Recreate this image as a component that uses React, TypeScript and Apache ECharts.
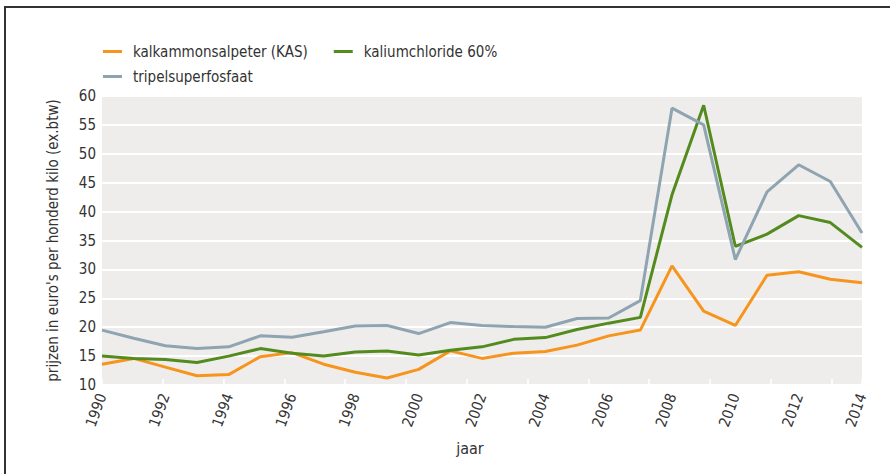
import React, { useEffect, useRef } from "react";
import * as echarts from "echarts";

const years = [
  "1990", "1991", "1992", "1993", "1994", "1995", "1996", "1997", "1998", "1999",
  "2000", "2001", "2002", "2003", "2004", "2005", "2006", "2007", "2008", "2009",
  "2010", "2011", "2012", "2013", "2014",
];

const kas = [
  13.6, 14.6, 13.1, 11.6, 11.8, 14.9, 15.6, 13.6, 12.2, 11.2,
  12.7, 15.9, 14.6, 15.5, 15.8, 16.9, 18.5, 19.5, 30.6, 22.8,
  20.3, 29.0, 29.6, 28.3, 27.7,
];

const kalium = [
  15.0, 14.6, 14.4, 13.9, 15.0, 16.3, 15.5, 15.0, 15.7, 15.9,
  15.2, 16.0, 16.6, 17.9, 18.2, 19.6, 20.7, 21.7, 42.9, 58.4,
  34.0, 36.1, 39.3, 38.1, 33.8,
];

const tripel = [
  19.5, 18.1, 16.8, 16.3, 16.6, 18.5, 18.25, 19.2, 20.2, 20.3,
  18.9, 20.8, 20.3, 20.1, 20.0, 21.5, 21.6, 24.6, 57.9, 55.0,
  31.7, 43.4, 48.1, 45.2, 36.3,
];

const seriesNames = ["kalkammonsalpeter (KAS)", "kaliumchloride 60%", "tripelsuperfosfaat"];
const yTitle = "prijzen in euro's per honderd kilo (ex.btw)";
const xTitle = "jaar";

const FONT = "'DejaVu Sans Condensed', 'Roboto', sans-serif";
const TXT = "#333333";

export default function App() {
  const ref = useRef<HTMLDivElement>(null);

  useEffect(() => {
    if (!ref.current) return;
    const chart = echarts.init(ref.current, undefined, { renderer: "svg" });
    const legendCommon = {
      left: 98,
      orient: "horizontal" as const,
      icon: "rect",
      itemWidth: 19,
      itemHeight: 3,
      itemGap: 26,
      textStyle: { fontFamily: FONT, fontSize: 15, color: TXT, padding: [0, 0, 0, 6] },
    };
    chart.setOption({
      animation: false,
      textStyle: { fontFamily: FONT },
      grid: { left: 102, right: 28, top: 96, bottom: 89, show: true, backgroundColor: "#EEEDEB", borderWidth: 0 },
      legend: [
        { ...legendCommon, top: 39, data: [seriesNames[0], seriesNames[1]] },
        { ...legendCommon, top: 64, data: [seriesNames[2]] },
      ],
      xAxis: [
        {
          type: "category",
          data: years,
          boundaryGap: false,
          axisLine: { show: false },
          axisTick: { show: false },
          axisLabel: {
            interval: 1,
            rotate: 70,
            margin: 9,
            fontSize: 15,
            color: TXT,
            fontFamily: FONT,
          },
        },
        {
          type: "category",
          data: years,
          position: "bottom",
          boundaryGap: true,
          axisLine: { show: false },
          axisLabel: { show: false },
          axisTick: { show: true, inside: true, length: 6, lineStyle: { color: "#ffffff", width: 1.5 } },
        },
      ],
      yAxis: {
        type: "value",
        min: 10,
        max: 60,
        interval: 5,
        name: yTitle,
        nameLocation: "middle",
        nameGap: 42,
        nameTextStyle: { fontFamily: FONT, fontSize: 15, color: TXT },
        axisLine: { show: false },
        axisTick: { show: false },
        axisLabel: { fontSize: 15, color: TXT, margin: 6, fontFamily: FONT },
        splitLine: { lineStyle: { color: "#ffffff", width: 2 } },
      },
      graphic: [
        {
          type: "polyline",
          shape: { points: [[5, 474], [5, 7], [890, 7]] },
          style: { stroke: "#333333", lineWidth: 2, fill: "none" },
        },
        {
          type: "text",
          x: 470,
          y: 448,
          style: { text: xTitle, fontFamily: FONT, fontSize: 16, fill: TXT, align: "center", verticalAlign: "middle" },
        },
      ],
      series: [
        { name: seriesNames[0], type: "line", data: kas, showSymbol: false, symbol: "none", lineStyle: { color: "#F7941D", width: 3 }, itemStyle: { color: "#F7941D" } },
        { name: seriesNames[1], type: "line", data: kalium, showSymbol: false, symbol: "none", lineStyle: { color: "#548B1E", width: 3 }, itemStyle: { color: "#548B1E" } },
        { name: seriesNames[2], type: "line", data: tripel, showSymbol: false, symbol: "none", lineStyle: { color: "#8FA4B1", width: 3 }, itemStyle: { color: "#8FA4B1" } },
      ],
    });
    return () => chart.dispose();
  }, []);

  return (
    <div
      ref={ref}
      style={{ position: "fixed", left: 0, top: 0, width: 890, height: 474, background: "#ffffff" }}
    />
  );
}
